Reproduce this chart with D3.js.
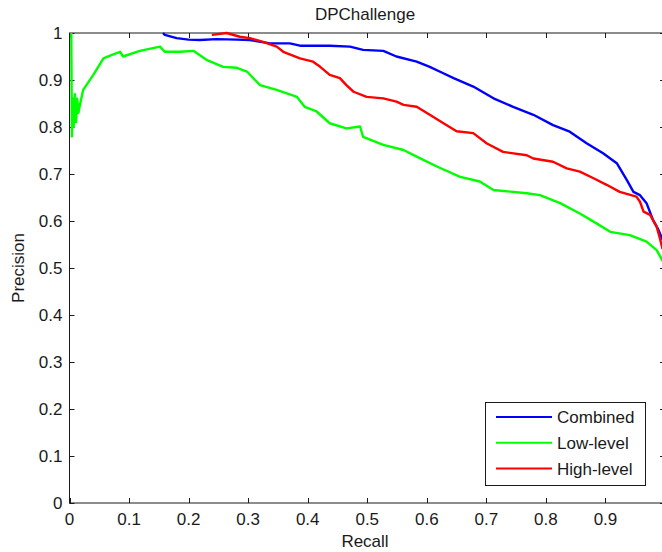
<!DOCTYPE html>
<html><head><meta charset="utf-8">
<script src="https://cdn.jsdelivr.net/npm/d3@7"></script>
<style>body{margin:0;background:#fff}svg{display:block}text{font-family:"Liberation Sans",Arial,sans-serif;fill:#1a1a1a}</style>
</head><body><svg id="c" width="662" height="552"></svg>
<script>
const title = "DPChallenge";
const xLabel = "Recall", yLabel = "Precision";
const xTicks = [0,0.1,0.2,0.3,0.4,0.5,0.6,0.7,0.8,0.9];
const yTicks = [0,0.1,0.2,0.3,0.4,0.5,0.6,0.7,0.8,0.9,1];
const seriesNames = ["Combined","Low-level","High-level"];
const seriesColors = ["#0000ff","#00ff00","#ff0000"];

const combinedRecall = [0.157,0.160,0.180,0.200,0.219,0.247,0.281,0.303,0.337,0.370,0.387,0.437,0.471,0.493,0.527,0.549,0.583,0.605,0.625,0.645,0.678,0.712,0.745,0.779,0.812,0.840,0.869,0.896,0.919,0.936,0.947,0.958,0.969,0.980,0.989,0.996];
const combinedPrec   = [1.000,0.996,0.989,0.986,0.985,0.987,0.986,0.985,0.978,0.978,0.973,0.973,0.971,0.964,0.962,0.950,0.939,0.928,0.916,0.904,0.886,0.861,0.843,0.826,0.804,0.790,0.765,0.744,0.723,0.687,0.662,0.655,0.638,0.602,0.581,0.560];

const lowRecall = [0.003,0.004,0.006,0.007,0.009,0.011,0.013,0.015,0.018,0.023,0.040,0.057,0.068,0.085,0.090,0.118,0.152,0.160,0.186,0.208,0.230,0.258,0.281,0.298,0.320,0.348,0.382,0.395,0.415,0.437,0.465,0.488,0.493,0.527,0.561,0.583,0.617,0.656,0.689,0.712,0.768,0.790,0.824,0.857,0.885,0.908,0.941,0.969,0.986,0.996];
const lowPrec   = [1.000,0.780,0.860,0.800,0.870,0.810,0.860,0.830,0.850,0.879,0.911,0.946,0.952,0.960,0.950,0.962,0.971,0.960,0.960,0.962,0.943,0.928,0.926,0.918,0.889,0.879,0.864,0.843,0.833,0.808,0.797,0.801,0.779,0.762,0.751,0.737,0.716,0.694,0.684,0.666,0.659,0.655,0.638,0.616,0.595,0.577,0.570,0.556,0.538,0.515];

const highRecall = [0.239,0.264,0.286,0.303,0.325,0.348,0.359,0.387,0.409,0.421,0.437,0.454,0.465,0.477,0.499,0.527,0.549,0.561,0.583,0.605,0.628,0.650,0.678,0.701,0.728,0.768,0.779,0.812,0.835,0.857,0.880,0.902,0.924,0.952,0.958,0.964,0.975,0.986,0.992,0.996];
const highPrec   = [0.996,1.000,0.992,0.989,0.981,0.971,0.960,0.946,0.939,0.928,0.911,0.904,0.889,0.875,0.864,0.861,0.854,0.847,0.843,0.826,0.808,0.791,0.787,0.765,0.747,0.740,0.733,0.726,0.712,0.705,0.691,0.677,0.662,0.652,0.641,0.620,0.613,0.588,0.560,0.540];
</script>
<script>
const svg = d3.select("#c");
const x = d3.scaleLinear().domain([0,1]).range([69.5,665]);
const y = d3.scaleLinear().domain([0,1]).range([503,33]);
const FS = 17;

svg.append("text").attr("x",365).attr("y",20).attr("text-anchor","middle").attr("font-size",FS).text(title);

const ax = svg.append("g");
ax.append("rect").attr("x",x(0)).attr("y",y(1)).attr("width",x(1)-x(0)).attr("height",y(0)-y(1))
  .attr("fill","none").attr("stroke","#1a1a1a").attr("stroke-width",1);

xTicks.forEach(t=>{
  const px = Math.round(x(t))+0.5;
  ax.append("line").attr("x1",px).attr("x2",px).attr("y1",y(0)).attr("y2",y(0)-5).attr("stroke","#1a1a1a");
  ax.append("line").attr("x1",px).attr("x2",px).attr("y1",y(1)).attr("y2",y(1)+5).attr("stroke","#1a1a1a");
  ax.append("text").attr("x",x(t)).attr("y",525).attr("text-anchor","middle").attr("font-size",FS).text(d3.format("~g")(t));
});
yTicks.forEach(t=>{
  const py = Math.round(y(t))+0.5;
  ax.append("line").attr("x1",x(0)).attr("x2",x(0)+5).attr("y1",py).attr("y2",py).attr("stroke","#1a1a1a");
  ax.append("line").attr("x1",x(1)).attr("x2",x(1)-5).attr("y1",py).attr("y2",py).attr("stroke","#1a1a1a");
  ax.append("text").attr("x",62.5).attr("y",y(t)+6).attr("text-anchor","end").attr("font-size",FS).text(d3.format("~g")(t));
});

svg.append("text").attr("x",365).attr("y",547).attr("text-anchor","middle").attr("font-size",FS).text(xLabel);
svg.append("text").attr("transform","translate(24,268) rotate(-90)").attr("text-anchor","middle").attr("font-size",FS).text(yLabel);

const series = [
  {r: combinedRecall, p: combinedPrec},
  {r: lowRecall, p: lowPrec},
  {r: highRecall, p: highPrec}
];
const line = d3.line().x(d=>x(d[0])).y(d=>y(d[1]));
svg.append("clipPath").attr("id","cp").append("rect")
  .attr("x",x(0)).attr("y",y(1)-2).attr("width",x(1)-x(0)).attr("height",y(0)-y(1)+2);
series.forEach((s,i)=>{
  const pts = s.r.map((r,k)=>[r, s.p[k]]);
  svg.append("path").attr("d",line(pts)).attr("fill","none").attr("stroke",seriesColors[i])
    .attr("stroke-width",2.4).attr("stroke-linejoin","round").attr("clip-path","url(#cp)");
});

const lg = svg.append("g");
lg.append("rect").attr("x",485.5).attr("y",402.5).attr("width",160).attr("height",83)
  .attr("fill","#fff").attr("stroke","#1a1a1a");
seriesNames.forEach((nm,i)=>{
  const ly = 417 + i*25.8;
  lg.append("line").attr("x1",496).attr("x2",552).attr("y1",ly).attr("y2",ly).attr("stroke",seriesColors[i]).attr("stroke-width",2);
  lg.append("text").attr("x",557).attr("y",ly+6).attr("font-size",FS).text(nm);
});
</script>
</body></html>
